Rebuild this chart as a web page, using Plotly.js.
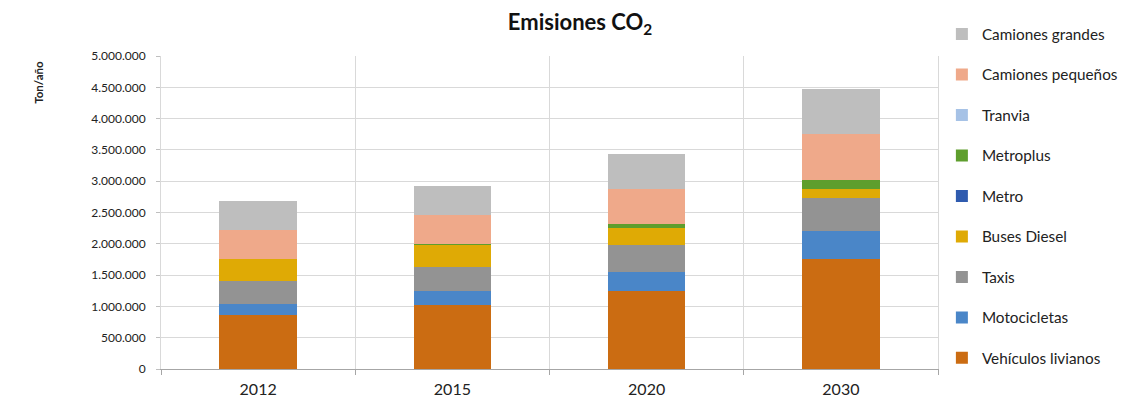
<!DOCTYPE html>
<html>
<head>
<meta charset="utf-8">
<script src="https://cdn.plot.ly/plotly-3.0.1.min.js"></script>
<style>html,body{margin:0;padding:0;background:#fff;}#chart{width:1123px;height:405px;}</style>
</head>
<body>
<div id="chart"></div>
<script>
const years = ['2012', '2015', '2020', '2030'];
const vehiculosLivianos = [870000, 1020000, 1247000, 1760000];
const motocicletas      = [165000, 227000, 300000, 440000];
const taxis             = [365000, 383000, 440000, 534000];
const busesDiesel       = [363000, 350000, 266000, 143000];
const metro             = [0, 0, 0, 0];
const metroplus         = [0, 20000, 64000, 148000];
const tranvia           = [0, 0, 0, 0];
const camionesPequenos  = [462000, 468000, 557000, 728000];
const camionesGrandes   = [465000, 462000, 558000, 717000];

const seriesNames = ['Vehículos livianos', 'Motocicletas', 'Taxis', 'Buses Diesel', 'Metro', 'Metroplus', 'Tranvia', 'Camiones pequeños', 'Camiones grandes'];
const seriesValues = [vehiculosLivianos, motocicletas, taxis, busesDiesel, metro, metroplus, tranvia, camionesPequenos, camionesGrandes];
const seriesColors = ['#CB6C12', '#4A86C8', '#939393', '#DFAA05', '#2F5BAF', '#5E9E2D', '#A6C2E6', '#EFA98A', '#BEBEBE'];

const font = 'Lato, "Open Sans", sans-serif';

const traces = seriesNames.map((n, i) => ({
  type: 'bar',
  name: n,
  x: years,
  y: seriesValues[i],
  width: 0.4,
  legendgroup: 'g' + i,
  legendrank: 1000 - i,
  marker: {color: seriesColors[i], line: {width: 0}},
  hoverinfo: 'name+y'
}));

const layout = {
  width: 1123, height: 405,
  barmode: 'stack',
  separators: ',.',
  paper_bgcolor: '#fff', plot_bgcolor: '#fff',
  margin: {l: 161, r: 185, t: 56, b: 36, autoexpand: false},
  font: {family: font, color: '#222'},
  title: {text: '<b>Emisiones CO<sub>2</sub></b>', x: 0.5165, xanchor: 'center', y: 0.945, yanchor: 'middle', font: {family: font, size: 22, color: '#111'}},
  xaxis: {
    type: 'category',
    tickson: 'boundaries',
    showgrid: true, gridcolor: '#d9d9d9', gridwidth: 1,
    showline: true, linecolor: '#a6a6a6', linewidth: 1,
    ticks: 'outside', ticklen: 5, tickcolor: '#a6a6a6',
    tickfont: {family: font, size: 16, color: '#222'},
    ticklabelstandoff: 6,
    fixedrange: true
  },
  yaxis: {
    range: [0, 5000000], dtick: 500000, tick0: 0,
    tickformat: ',d',
    showgrid: true, gridcolor: '#d9d9d9', gridwidth: 1,
    showline: true, linecolor: '#d9d9d9', mirror: true,
    ticks: 'outside', ticklen: 4, tickcolor: '#bfbfbf',
    tickfont: {family: font, size: 12, color: '#222'},
    ticklabelstandoff: 8,
    zeroline: false,
    fixedrange: true
  },
  legend: {
    traceorder: 'grouped',
    tracegroupgap: 17.6,
    maxheight: 405,
    x: 1.005, xanchor: 'left', y: 1.123, yanchor: 'top',
    font: {family: font, size: 15.3, color: '#222'},
    bgcolor: 'rgba(0,0,0,0)'
  },
  annotations: [{
    text: '<b>Ton/año</b>', textangle: -90,
    xref: 'paper', yref: 'paper',
    x: -0.158, y: 0.915, xanchor: 'center', yanchor: 'middle',
    showarrow: false,
    font: {family: font, size: 11.5, color: '#222'}
  }]
};

Plotly.newPlot('chart', traces, layout, {displayModeBar: false, staticPlot: true});
</script>
</body>
</html>
